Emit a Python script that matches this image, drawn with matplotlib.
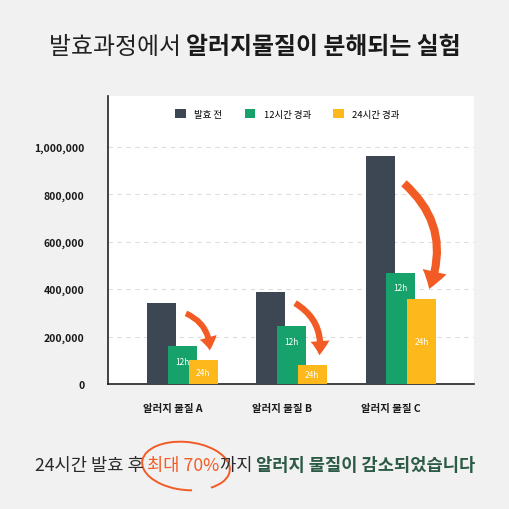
import matplotlib
matplotlib.use("Agg")
import matplotlib.pyplot as plt
import matplotlib.ticker as mticker
import numpy as np
from matplotlib.patches import FancyArrowPatch, Arc

plt.rcParams["font.family"] = ["Noto Sans CJK KR", "DejaVu Sans"]

# ── 데이터 ────────────────────────────────────────────────────────────────
CATEGORIES = ["알러지 물질 A", "알러지 물질 B", "알러지 물질 C"]
BEFORE     = [340000, 390000, 960000]
AFTER_12H  = [160000, 245000, 470000]
AFTER_24H  = [100000, 80000, 360000]
SERIES_LABELS = ["발효 전", "12시간 경과", "24시간 경과"]
BAR_TEXT   = ["", "12h", "24h"]
Y_TICKS    = [0, 200000, 400000, 600000, 800000, 1000000]

BG     = "#f1f1f1"
DARK   = "#3d4753"
GREEN  = "#17a16b"
YELLOW = "#fdb81c"
ORANGE = "#f35b25"
DEEPGREEN = "#2c5a45"

fig = plt.figure(figsize=(5.1, 5.1), dpi=100, facecolor=BG)
ax = fig.add_axes([108 / 510, 1 - 385 / 510, 366 / 510, 288 / 510])
ax.set_facecolor("white")

x = np.arange(len(CATEGORIES))
offsets = [-0.10, 0.09, 0.28]
width = 0.265
colors = [DARK, GREEN, YELLOW]
series = [BEFORE, AFTER_12H, AFTER_24H]

for i, (vals, col, lab) in enumerate(zip(series, colors, SERIES_LABELS)):
    bars = ax.bar(x + offsets[i], vals, width=width, color=col, label=lab,
                  zorder=3 + i, linewidth=0)
    if BAR_TEXT[i]:
        for b, v in zip(bars, vals):
            if i == 1:
                ax.annotate(BAR_TEXT[i], (b.get_x() + b.get_width() / 2, v),
                            xytext=(0, -11), textcoords="offset points",
                            ha="center", va="center", fontsize=6, color="white",
                            zorder=10)
            else:
                ax.text(b.get_x() + b.get_width() / 2, v / 2, BAR_TEXT[i],
                        ha="center", va="center", fontsize=6, color="white",
                        zorder=10)

# 감소 화살표
max_drop = max(b - a for b, a in zip(BEFORE, AFTER_24H))
for xi, b, a in zip(x, BEFORE, AFTER_24H):
    s = 7 + 6 * (b - a) / max_drop
    arr = FancyArrowPatch(
        (xi + 0.10, b * 0.89), (xi + 0.34, a + 30000),
        connectionstyle="arc3,rad=-0.36",
        arrowstyle="simple,head_length=1.0,head_width=1.35,tail_width=0.45",
        mutation_scale=s, color=ORANGE, linewidth=0, zorder=12,
    )
    ax.add_patch(arr)

ax.set_xlim(-0.59, 2.76)
ax.set_ylim(0, 1.215e6)
ax.set_xticks(x)
ax.set_xticklabels(CATEGORIES, fontsize=7.5, fontweight="bold", color="#1a1a1a")
ax.set_yticks(Y_TICKS)
ax.yaxis.set_major_formatter(mticker.FuncFormatter(lambda v, _: f"{int(v):,}"))
for t in ax.get_yticklabels():
    t.set_fontweight("bold")
    t.set_fontsize(7.5)
    t.set_color("#1a1a1a")
ax.tick_params(axis="y", length=0, pad=17)
ax.tick_params(axis="x", length=0, pad=14)

ax.yaxis.grid(True, linestyle=(0, (4, 4)), color="#dddddd", linewidth=0.8, zorder=0)
ax.set_axisbelow(True)
for side in ["top", "right"]:
    ax.spines[side].set_visible(False)
ax.spines["left"].set_color("#222222")
ax.spines["bottom"].set_color("#222222")
ax.spines["left"].set_linewidth(1.2)
ax.spines["bottom"].set_linewidth(1.2)

leg = ax.legend(loc="upper center", bbox_to_anchor=(0.49, 0.985), ncol=3,
                frameon=False, fontsize=6.8, handlelength=1.1, handleheight=1.1,
                columnspacing=2.4, handletextpad=0.9)


def draw_segments(y, segments, size):
    """가운데 정렬된 여러 스타일의 텍스트를 이어 그린다."""
    renderer = fig.canvas.get_renderer()
    texts = []
    for s, weight, color in segments:
        t = fig.text(0, y, s, fontsize=size, fontweight=weight, color=color,
                     va="center", ha="left")
        texts.append(t)
    widths = [t.get_window_extent(renderer).width for t in texts]
    total = sum(widths)
    start = (fig.bbox.width - total) / 2
    for t, w in zip(texts, widths):
        t.set_x(start / fig.bbox.width)
        start += w


draw_segments(1 - 47 / 510, [
    ("발효과정에서 ", "normal", "#222222"),
    ("알러지물질이 분해되는 실험", "heavy", "#1a1a1a"),
], 17.2)

draw_segments(1 - 466 / 510, [
    ("24시간 발효 후 ", "normal", "#2a2a2a"),
    ("최대 70%", "normal", ORANGE),
    ("까지 ", "normal", "#2a2a2a"),
    ("알러지 물질이 감소되었습니다", "bold", DEEPGREEN),
], 12.7)

# 손그림 원
fig.patches.append(Arc((186 / 510, 1 - 467 / 510), 88 / 510, 48 / 510, angle=-6,
                       theta1=-35, theta2=290, color=ORANGE, linewidth=1.4,
                       transform=fig.transFigure, figure=fig))

fig.savefig("out.png", dpi=100, facecolor=BG)
